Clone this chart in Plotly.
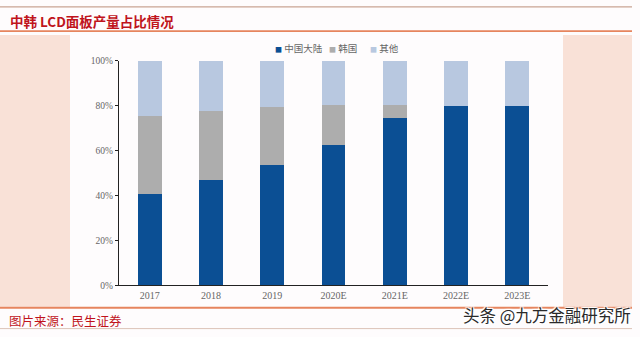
import plotly.graph_objects as go

# ---- data ----
categories = ["2017", "2018", "2019", "2020E", "2021E", "2022E", "2023E"]
china = [40.5, 47.0, 53.5, 62.5, 74.5, 80.0, 80.0]
korea = [35.0, 30.5, 26.0, 18.0, 6.0, 0.0, 0.0]
others = [24.5, 22.5, 20.5, 19.5, 19.5, 20.0, 20.0]
series_names = ["中国大陆", "韩国", "其他"]
series_colors = ["#0b4f94", "#adadad", "#b8c8e0"]
y_ticks = [0, 20, 40, 60, 80, 100]

W, H = 640, 337

def px(x):
    return x / W

def py(y):
    return 1 - y / H

fig = go.Figure()
for name, vals, col in zip(series_names, [china, korea, others], series_colors):
    fig.add_trace(go.Bar(x=categories, y=vals, name=name, marker=dict(color=col, line=dict(width=0)),
                         showlegend=False))

# one native legend per series so the entries can sit as tightly as in the original
legend_ids = ["legend", "legend2", "legend3"]
legend_text_x = [275, 329, 370]  # left edge of each legend entry's text (px)
for name, col, lid in zip(series_names, series_colors, legend_ids):
    fig.add_trace(go.Scatter(
        x=[None], y=[None], mode="markers", legend=lid,
        name=f'<span style="color:{col};font-size:7px">■</span> {name}',
        marker=dict(symbol="square", size=1, color="rgba(0,0,0,0)")))

legend_layout = {}
for lid, tx in zip(legend_ids, legend_text_x):
    legend_layout[lid] = dict(
        orientation="h", x=px(tx - 40), y=py(45), xanchor="left", yanchor="middle",
        font=dict(family="Noto Sans CJK SC", size=9.5, color="#666666"),
        itemwidth=30, bgcolor="rgba(0,0,0,0)", borderwidth=0)

shapes = []
peach = "#f9e1d7"
shapes.append(dict(type="rect", xref="paper", yref="paper", x0=px(0), x1=px(70), y0=py(311), y1=py(31),
                   fillcolor=peach, line=dict(width=0), layer="below"))
shapes.append(dict(type="rect", xref="paper", yref="paper", x0=px(563), x1=px(632), y0=py(311), y1=py(31),
                   fillcolor=peach, line=dict(width=0), layer="below"))
shapes.append(dict(type="line", xref="paper", yref="paper", x0=px(0), x1=px(632), y0=py(2), y1=py(2),
                   line=dict(color="#c9a493", width=1.2)))
shapes.append(dict(type="line", xref="paper", yref="paper", x0=px(0), x1=px(632), y0=py(27), y1=py(27),
                   line=dict(color="#e6855e", width=1.8)))
shapes.append(dict(type="line", xref="paper", yref="paper", x0=px(0), x1=px(632), y0=py(312), y1=py(312),
                   line=dict(color="#e6855e", width=1.8)))
shapes.append(dict(type="line", xref="paper", yref="paper", x0=px(0), x1=px(632), y0=py(333.5), y1=py(333.5),
                   line=dict(color="#dcc3b8", width=1)))

annotations = [
    dict(text="<b>中韩 LCD面板产量占比情况</b>", xref="paper", yref="paper", x=px(8), y=py(17),
         xanchor="left", yanchor="middle", showarrow=False,
         font=dict(family="Noto Sans CJK SC", size=13.5, color="#c0141c")),
    dict(text="图片来源：民生证券", xref="paper", yref="paper", x=px(7), y=py(325),
         xanchor="left", yanchor="middle", showarrow=False,
         font=dict(family="Noto Sans CJK SC", size=12.5, color="#c0141c")),
    dict(text="头条 @九方金融研究所", xref="paper", yref="paper", x=px(633), y=py(319),
         xanchor="right", yanchor="middle", showarrow=False,
         font=dict(family="Noto Sans CJK SC", size=16.5, color="#2a2a2a",
                   shadow="1px 1px 1px #fff, -1px -1px 1px #fff, 1px -1px 1px #fff, -1px 1px 1px #fff")),
]

fig.update_layout(
    width=W, height=H,
    margin=dict(l=0, r=0, t=0, b=0),
    paper_bgcolor="#fefcfd",
    plot_bgcolor="rgba(0,0,0,0)",
    barmode="stack",
    bargap=0.61,
    shapes=shapes,
    annotations=annotations,
    xaxis=dict(domain=[px(119), px(548)], range=[-0.5, 6.5], type="category",
               showline=True, linecolor="#222222", linewidth=1.2, ticks="", showgrid=False,
               tickfont=dict(family="Liberation Serif", size=10, color="#666666"), fixedrange=True),
    yaxis=dict(domain=[py(289), py(57.5)], range=[0, 100], tickvals=y_ticks,
               ticktext=[f"{v}%" for v in y_ticks],
               showline=True, linecolor="#222222", linewidth=1.2, ticks="outside", ticklen=3,
               tickcolor="#222222", showgrid=False, zeroline=False,
               tickfont=dict(family="Liberation Serif", size=9.5, color="#666666"), fixedrange=True),
    **legend_layout,
)

fig.write_html("out.html")
